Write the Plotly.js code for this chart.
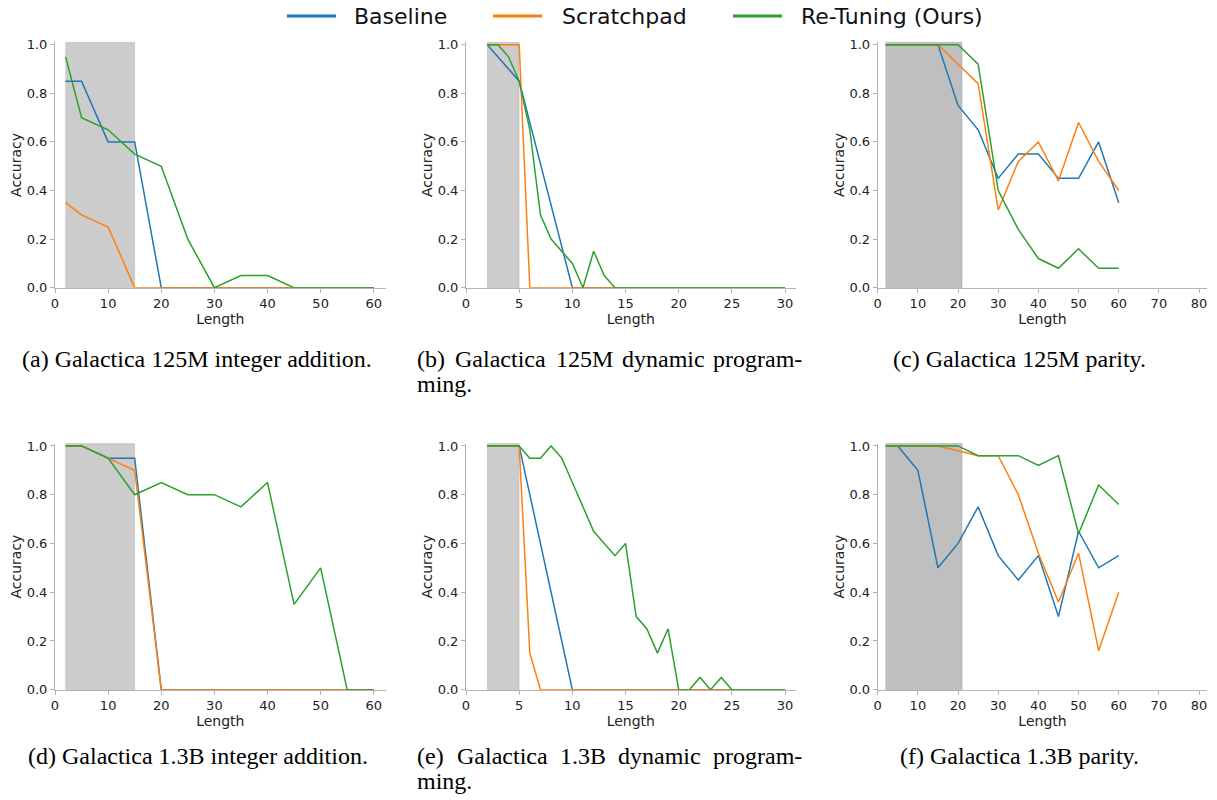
<!DOCTYPE html>
<html><head><meta charset="utf-8">
<script src="https://cdn.plot.ly/plotly-3.0.1.min.js"></script>
<style>html,body{margin:0;padding:0;background:#fff}#chart{width:1217px;height:800px}</style>
</head><body><div id="chart"></div><script>
// ---------------- data ----------------
const seriesNames = ['Baseline', 'Scratchpad', 'Re-Tuning (Ours)'];
const seriesColors = ['#1f77b4', '#ff7f0e', '#2ca02c'];

// lengths
const len5to60 = [2, 5, 10, 15, 20, 25, 30, 35, 40, 45, 50, 55, 60];
const len5to30 = [2, 5, 10, 15, 20, 25, 30];
const len1to30 = [2, 3, 4, 5, 6, 7, 8, 9, 10, 11, 12, 13, 14, 15, 16, 17, 18, 19, 20, 21, 22, 23, 24, 25, 26, 27, 28, 29, 30];

// (a) Galactica 125M integer addition
const a_baseline   = [0.85, 0.85, 0.60, 0.60, 0, 0, 0, 0, 0, 0, 0, 0, 0];
const a_scratchpad = [0.35, 0.30, 0.25, 0, 0, 0, 0, 0, 0, 0, 0, 0, 0];
const a_retuning   = [0.95, 0.70, 0.65, 0.55, 0.50, 0.20, 0, 0.05, 0.05, 0, 0, 0, 0];

// (b) Galactica 125M dynamic programming
const b_baseline   = [1.0, 0.85, 0, 0, 0, 0, 0];
const b_scratchpad = [1, 1, 1, 1, 0, 0, 0, 0, 0, 0, 0, 0, 0, 0, 0, 0, 0, 0, 0, 0, 0, 0, 0, 0, 0, 0, 0, 0, 0];
const b_retuning   = [1, 1, 0.95, 0.85, 0.65, 0.30, 0.20, 0.15, 0.10, 0, 0.15, 0.05, 0, 0, 0, 0, 0, 0, 0, 0, 0, 0, 0, 0, 0, 0, 0, 0, 0];

// (c) Galactica 125M parity
const c_baseline   = [1, 1, 1, 1, 0.75, 0.65, 0.45, 0.55, 0.55, 0.45, 0.45, 0.60, 0.35];
const c_scratchpad = [1, 1, 1, 1, 0.92, 0.84, 0.32, 0.52, 0.60, 0.44, 0.68, 0.52, 0.40];
const c_retuning   = [1, 1, 1, 1, 1, 0.92, 0.40, 0.24, 0.12, 0.08, 0.16, 0.08, 0.08];

// (d) Galactica 1.3B integer addition
const d_baseline   = [1, 1, 0.95, 0.95, 0, 0, 0, 0, 0, 0, 0, 0, 0];
const d_scratchpad = [1, 1, 0.95, 0.90, 0, 0, 0, 0, 0, 0, 0, 0, 0];
const d_retuning   = [1, 1, 0.95, 0.80, 0.85, 0.80, 0.80, 0.75, 0.85, 0.35, 0.50, 0, 0];

// (e) Galactica 1.3B dynamic programming
const e_baseline   = [1, 1, 0, 0, 0, 0, 0];
const e_scratchpad = [1, 1, 1, 1, 0.15, 0, 0, 0, 0, 0, 0, 0, 0, 0, 0, 0, 0, 0, 0, 0, 0, 0, 0, 0, 0, 0, 0, 0, 0];
const e_retuning   = [1, 1, 1, 1, 0.95, 0.95, 1.0, 0.95, 0.85, 0.75, 0.65, 0.60, 0.55, 0.60, 0.30, 0.25, 0.15, 0.25, 0, 0, 0.05, 0, 0.05, 0, 0, 0, 0, 0, 0];

// (f) Galactica 1.3B parity
const f_baseline   = [1, 1, 0.90, 0.50, 0.60, 0.75, 0.55, 0.45, 0.55, 0.30, 0.65, 0.50, 0.55];
const f_scratchpad = [1, 1, 1, 1, 0.98, 0.96, 0.96, 0.80, 0.56, 0.36, 0.56, 0.16, 0.40];
const f_retuning   = [1, 1, 1, 1, 1, 0.96, 0.96, 0.96, 0.92, 0.96, 0.64, 0.84, 0.76];

// training-length spans
const spanA = [2, 15], spanB = [2, 5], spanC = [2, 21];

const yTicks = [0, 0.2, 0.4, 0.6, 0.8, 1.0];
const xTicks60 = [0, 10, 20, 30, 40, 50, 60];
const xTicks30 = [0, 5, 10, 15, 20, 25, 30];
const xTicks80 = [0, 10, 20, 30, 40, 50, 60, 70, 80];

// ---------------- layout helpers ----------------
const W = 1217, H = 800;
const px = p => p / W;
const py = p => 1 - p / H;

const panels = [
  {xs: [len5to60, len5to60, len5to60], ys: [a_baseline, a_scratchpad, a_retuning], span: spanA, spanAlpha: 0.4, xr: [0, 62.25], ticks: xTicks60, dom: [55, 385.7], row: 0},
  {xs: [len5to30, len1to30, len1to30], ys: [b_baseline, b_scratchpad, b_retuning], span: spanB, spanAlpha: 0.4, xr: [0, 31], ticks: xTicks30, dom: [466, 795.7], row: 0},
  {xs: [len5to60, len5to60, len5to60], ys: [c_baseline, c_scratchpad, c_retuning], span: spanC, spanAlpha: 0.5, xr: [0, 82.05], ticks: xTicks80, dom: [877.7, 1207.3], row: 0},
  {xs: [len5to60, len5to60, len5to60], ys: [d_baseline, d_scratchpad, d_retuning], span: spanA, spanAlpha: 0.4, xr: [0, 62.25], ticks: xTicks60, dom: [55, 385.7], row: 1},
  {xs: [len5to30, len1to30, len1to30], ys: [e_baseline, e_scratchpad, e_retuning], span: spanB, spanAlpha: 0.4, xr: [0, 31], ticks: xTicks30, dom: [466, 795.7], row: 1},
  {xs: [len5to60, len5to60, len5to60], ys: [f_baseline, f_scratchpad, f_retuning], span: spanC, spanAlpha: 0.5, xr: [0, 82.05], ticks: xTicks80, dom: [877.7, 1207.3], row: 1}
];
const rowPix = [[42.3, 287.7], [443.5, 689.7]];

const spineColor = '#b3b3b3';
const tickFont = {family: 'DejaVu Sans', size: 13, color: '#222'};
const titleFont = {family: 'DejaVu Sans', size: 14, color: '#222'};

const data = [];
const layout = {
  width: W, height: H,
  margin: {l: 0, r: 0, t: 0, b: 0},
  paper_bgcolor: '#fff', plot_bgcolor: '#fff',
  showlegend: false,
  shapes: [], annotations: []
};

panels.forEach((p, i) => {
  const n = i + 1;
  const xa = n === 1 ? 'x' : 'x' + n;
  const ya = n === 1 ? 'y' : 'y' + n;
  for (let s = 0; s < 3; s++) {
    data.push({
      type: 'scatter', mode: 'lines', name: seriesNames[s],
      x: p.xs[s], y: p.ys[s], xaxis: xa, yaxis: ya,
      line: {color: seriesColors[s], width: 1.5},
      hoverinfo: 'skip'
    });
  }
  const common = {
    showgrid: false, zeroline: false, showline: true, linecolor: spineColor, linewidth: 1,
    ticks: 'outside', ticklen: 4, tickwidth: 1, tickcolor: spineColor,
    tickfont: tickFont, layer: 'above traces'
  };
  layout['xaxis' + (n === 1 ? '' : n)] = Object.assign({}, common, {
    domain: [px(p.dom[0]), px(p.dom[1])], anchor: ya, range: p.xr,
    tickmode: 'array', tickvals: p.ticks,
    title: {text: 'Length', font: titleFont, standoff: 0}
  });
  const rp = rowPix[p.row];
  layout['yaxis' + (n === 1 ? '' : n)] = Object.assign({}, common, {
    domain: [py(rp[1]), py(rp[0])], anchor: xa, range: [0, 1.01],
    tickmode: 'array', tickvals: yTicks, tickformat: '.1f',
    title: {text: 'Accuracy', font: titleFont, standoff: 1}
  });
  layout.shapes.push({
    type: 'rect', xref: xa, yref: ya + ' domain', x0: p.span[0], x1: p.span[1], y0: 0, y1: 1,
    fillcolor: 'rgba(128,128,128,' + p.spanAlpha + ')',
    line: {width: 1, color: 'rgba(128,128,128,' + (p.spanAlpha * 0.5) + ')'}, layer: 'below'
  });
});

// ---------------- legend (drawn at top centre) ----------------
const legendLines = [[287, 336], [493, 542], [733, 782]];
const legendText = [352, 560, 799];
const legendY = 16;
for (let s = 0; s < 3; s++) {
  layout.shapes.push({
    type: 'line', xref: 'paper', yref: 'paper',
    x0: px(legendLines[s][0]), x1: px(legendLines[s][1]), y0: py(legendY), y1: py(legendY),
    line: {color: seriesColors[s], width: 3}
  });
  layout.annotations.push({
    xref: 'paper', yref: 'paper', x: px(legendText[s]), y: py(legendY),
    xanchor: 'left', yanchor: 'middle', showarrow: false, text: seriesNames[s],
    font: {family: 'DejaVu Sans', size: 22, color: '#111'}
  });
}

// ---------------- captions ----------------
const capFont = {family: 'Liberation Serif', size: 24, color: '#000'};
function cap(text, x, y, anchor) {
  layout.annotations.push({xref: 'paper', yref: 'paper', x: px(x), y: py(y), xanchor: anchor,
    yanchor: 'middle', showarrow: false, text: text, font: capFont});
}
cap('(a) Galactica 125M integer addition.', 197, 359, 'center');
cap('(c) Galactica 125M parity.', 1019.5, 359, 'center');
cap('(d) Galactica 1.3B integer addition.', 197.5, 756, 'center');
cap('(f) Galactica 1.3B parity.', 1019.5, 756, 'center');
// justified two-line captions
const capB = ['(b)', 'Galactica', '125M', 'dynamic', 'program-'];
const capBx = [415, 453, 554, 620];
const capE = ['(e)', 'Galactica', '1.3B', 'dynamic', 'program-'];
const capEx = [415, 455, 558, 616];
for (let k = 0; k < 4; k++) { cap(capB[k], capBx[k], 359, 'left'); cap(capE[k], capEx[k], 756, 'left'); }
cap(capB[4], 804, 359, 'right'); cap(capE[4], 804, 756, 'right');
cap('ming.', 415, 384, 'left'); cap('ming.', 415, 781, 'left');

Plotly.newPlot('chart', data, layout, {staticPlot: true, displayModeBar: false});
</script></body></html>
